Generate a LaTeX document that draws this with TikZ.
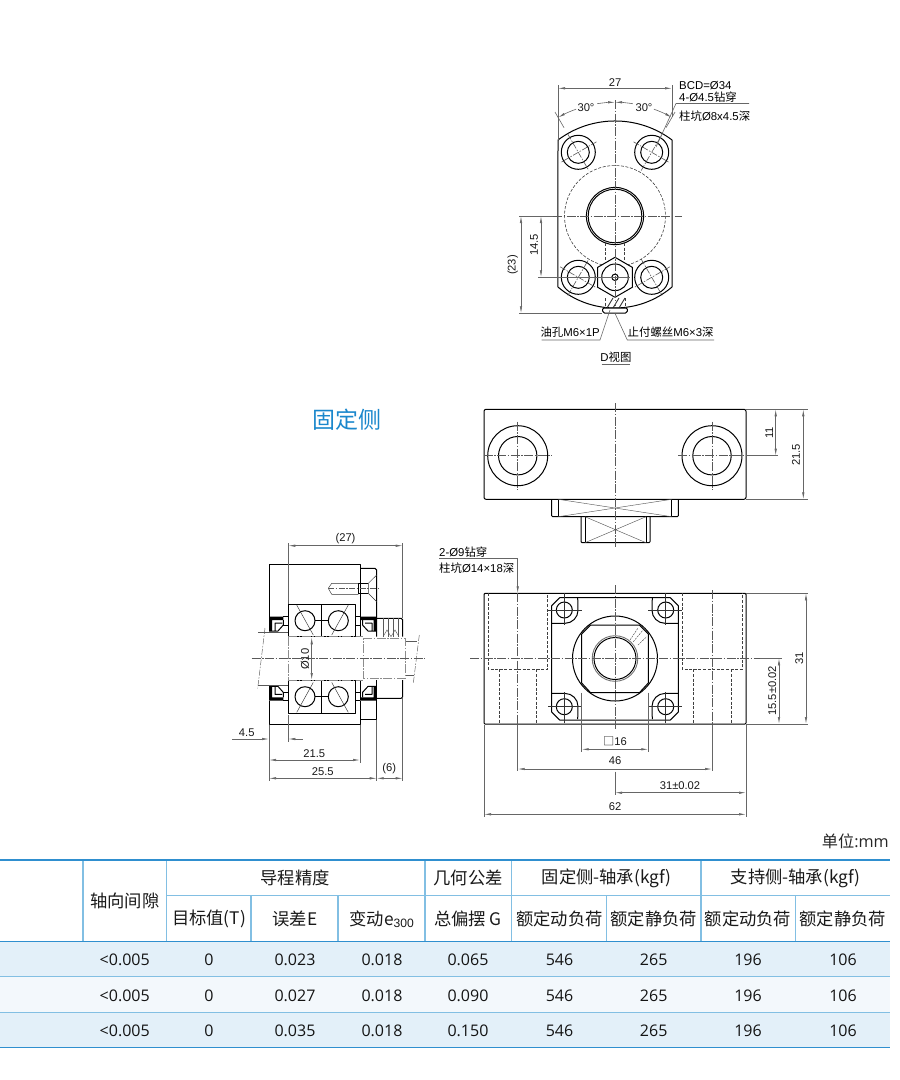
\documentclass[tikz,border=0pt]{standalone}
\usepackage{fontspec}
\usetikzlibrary{calc}
\usetikzlibrary{arrows.meta}
\setmainfont{Liberation Sans}
\newfontfamily\cjk{Noto Sans CJK SC}
\newfontfamily\tabfont{Open Sans}
\newcommand{\zh}[1]{{\cjk #1}}
\definecolor{tabline}{HTML}{2F8FCF}
\definecolor{tabgrid}{HTML}{82BFE3}
\definecolor{rowdark}{HTML}{E3F0F9}
\definecolor{rowlight}{HTML}{F3F8FC}
\definecolor{titleblue}{HTML}{1A87CC}
\tikzset{
  outl/.style={line width=1pt,black,line join=round},
  thinl/.style={line width=.45pt,black!65},
  hidden/.style={line width=.6pt,black!75,dashed,dash pattern=on 3pt off 1.6pt},
  cline/.style={line width=.6pt,black!65,dash pattern=on 9pt off 1.5pt on 1.5pt off 1.5pt},
  diml/.style={line width=.6pt,black!60},
  lab/.style={inner sep=0pt,text=black!90,font=\fontsize{11.2}{13}\selectfont},
  leadlab/.style={inner sep=0pt,text=black,font=\fontsize{11.4}{13}\selectfont},
  cellhead/.style={inner sep=0pt,text=black!90,font=\fontsize{17.3}{19}\selectfont\cjk},
  cellnum/.style={inner sep=0pt,text=black!92,font=\fontsize{16}{18}\selectfont\tabfont},
}
\begin{document}
\begin{tikzpicture}[x=1pt,y=1pt,yscale=-1,>={Latex[length=7pt,width=2.4pt]}]
    \useasboundingbox (0,0) rectangle (900,1080);
    \coordinate (dc) at (615,216);

    % D view
    \draw[outl] (558,140) arc (233.1:306.9:95) -- (672,287) arc (49.6:130.4:88) -- cycle;
    \foreach \hx/\hy/\ang in {578.3/152.3/60,651.7/152.3/-60,578.3/277.3/-60,651.7/277.3/60}{
        \draw[outl] (\hx,\hy) circle (17) (\hx,\hy) circle (11);
        \draw[cline,dash pattern=on 6pt off 1.5pt on 1.5pt off 1.5pt,shift={(\hx,\hy)},rotate=\ang] (-21,0)--(21,0) (0,-21)--(0,21);
    }
    \draw[hidden] (dc) circle (50.5);
    \draw[outl,fill=white] (dc) circle (28.6);
    \draw[outl] (dc) circle (26.8);
    \draw[hidden] (605.7,243)--(605.7,260) (624.3,243)--(624.3,260);
    \draw[outl,fill=white] (615,257.3)--(632.3,267.3)--(632.3,287.3)--(615,297.3)--(597.7,287.3)--(597.7,267.3)--cycle;
    \draw[outl] (615,277.3) circle (13.3) (615,277.3) circle (3.2);
    \draw[black!80,line width=.9pt] (607,308)--(613,298) (613,308)--(619,298) (619,308)--(625,298);
    \draw[hidden] (605,298)--(605,308) (625,298)--(625,308);
    \draw[outl,rounded corners=1.5pt,fill=white] (602.3,308)--(603,313)--(627,313)--(627.7,308)--cycle;
    \draw[cline] (615,100)--(615,306);
    \draw[cline] (553,216)--(682,216);
    \draw[diml] (519,216)--(553,216) (538,277.3)--(630,277.3) (519,313.3)--(602,313.3);
    \draw[diml] (558,85)--(558,140) (672,85)--(672,117);
    \draw[diml,<->] (558,88.3)--(672,88.3) node[midway,lab,above=2pt] (dA) {27};
    \draw[diml] ($(dc)+(240:102)$)--($(dc)+(240:120)$) ($(dc)+(300:102)$)--($(dc)+(300:120)$);
    \draw[diml,<-] ($(dc)+(240:113.7)$) arc (240:250:113.7);
    \draw[diml,->] ($(dc)+(261:113.7)$) arc (261:270:113.7);
    \draw[diml,<-] ($(dc)+(270:113.7)$) arc (270:279:113.7);
    \draw[diml,->] ($(dc)+(290:113.7)$) arc (290:300:113.7);
    \node[lab] (dB) at (586,107.7) {30°};
    \node[lab] (dC) at (644,107.7) {30°};
    \draw[diml,<->] (541,216)--(541,277.3);
    \node[lab,rotate=90] (dD) at (534,245) {14.5};
    \draw[diml,<->] (521,216)--(521,313.3);
    \node[lab,rotate=90] (dE) at (512.7,265) {(23)};
    \draw[diml] (749,103.5)--(676,103.5)--(656,147);
    \node[leadlab,anchor=west] (dF) at (679,85.7) {BCD=Ø34};
    \node[leadlab,anchor=west] (dG) at (679,97.3) {4-Ø4.5\zh{钻穿}};
    \node[leadlab,anchor=west] (dH) at (679,116) {\zh{柱坑}Ø8x4.5\zh{深}};
    \draw[diml] (541.7,340)--(600,340)--(610,310);
    \draw[diml] (714,340)--(627.3,340)--(615,313.3);
    \node[leadlab,anchor=east] (dI) at (600,332.3) {\zh{油孔}M6×1P};
    \node[leadlab,anchor=west] (dJ) at (627.5,332.3) {\zh{止付螺丝}M6×3\zh{深}};
    \node[leadlab] (dK) at (616,356.7) {D\zh{视图}};
    \draw[diml] (601.7,364)--(630,364);

    \node[inner sep=0pt,text=titleblue,font=\fontsize{23}{25}\selectfont\cjk] (title) at (347,420) {固定侧};

    % top view
    \draw[outl,rounded corners=2pt] (484,409.3) rectangle (746,499.3);
    \foreach \hx in {517.7,712}{
        \draw[outl] (\hx,455.7) circle (30) (\hx,455.7) circle (19.2);
        \draw[cline] (\hx-34,455.7)--(\hx+34,455.7) (\hx,421.7)--(\hx,489.7);
    }
    \draw[outl,rounded corners=1pt] (551.7,499.3)--(551.7,516.7)--(678.3,516.7)--(678.3,499.3);
    \draw[outl] (558.3,499.3)--(558.3,516.7) (671.7,499.3)--(671.7,516.7);
    \draw[thinl] (558.3,499.3)--(671.7,516.7) (558.3,516.7)--(671.7,499.3);
    \draw[outl,rounded corners=1pt] (581,516.7)--(581,542.7)--(650,542.7)--(650,516.7);
    \draw[outl] (585,516.7)--(585,542.7) (646,516.7)--(646,542.7);
    \draw[thinl] (585,516.7)--(646,542.7) (585,542.7)--(646,516.7);
    \draw[cline] (615,403)--(615,547.7);
    \draw[diml] (746,409.3)--(808,409.3) (746,455.7)--(778,455.7) (746,499.3)--(808,499.3);
    \draw[diml,<->] (775.7,409.3)--(775.7,455.7);
    \node[lab,rotate=90] (tA) at (769.3,433) {11};
    \draw[diml,<->] (803.3,409.3)--(803.3,499.3);
    \node[lab,rotate=90] (tB) at (796,455) {21.5};

    % front view
    \draw[outl,rounded corners=1pt] (484,593.3) rectangle (746,724);
    \foreach \sxv/\dxv in {488.3/547.7,682.3/742.3}
        \draw[hidden] (\sxv,593.3)--(\sxv,669.3)--(\dxv,669.3)--(\dxv,593.3);
    \foreach \hx in {499,536.7,693.3,731}
        \draw[hidden] (\hx,669.3)--(\hx,724);
    \draw[outl] (559.7,597.7)--(670.3,597.7)--(678.3,605.7)--(678.3,712)--(670.3,720)--(559.7,720)--(551.7,712)--(551.7,605.7)--cycle;
    \foreach \ax/\ay/\bx/\by in {1/1/0/0,-1/1/1230/0,1/-1/0/1316.7,-1/-1/1230/1316.7}{
        \begin{scope}[shift={(\bx,\by)},xscale=\ax,yscale=\ay]
            \draw[outl] (551.7,623.3)--(565,623.3) arc (90:0:13) -- (577.7,597.7);
            \draw[outl] (564.3,610) circle (8);
            \draw[thinl,black!80] (548.3,610)--(581.7,610) (564.3,593.3)--(564.3,625);
        \end{scope}
    }
    \draw[outl] (615,658.5) circle (42.5);
    \draw[outl] (581.7,634)--(590.6,625)--(639.4,625)--(648.3,634)--(648.3,683)--(639.4,692.7)--(590.6,692.7)--(581.7,683)--cycle;
    \draw[black!55,line width=.9pt] (615,658.5) circle (22.8);
    \draw[outl] (615,658.5) circle (21);
    \draw[hidden,line width=.4pt,dash pattern=on 2pt off 1pt] (630,640)--(638,628) (633.3,641.7)--(643,630) (638,645)--(646.7,636.7);
    \draw[cline] (470,658.3)--(760,658.3) (615,585)--(615,730);
    \draw[cline] (517.7,593.3)--(517.7,724) (712,590)--(712,724);
    \draw[diml] (746,593.3)--(808,593.3) (746,724)--(808,724) (760,658.3)--(781.7,658.3);
    \draw[diml,<->] (806,593.3)--(806,724);
    \node[lab,rotate=90] (fA) at (799.3,658) {31};
    \draw[diml,<->] (779,658.3)--(779,724);
    \node[lab,rotate=90] (fB) at (772.3,690.7) {15.5±0.02};
    \draw[diml] (517.7,725)--(517.7,771) (712,725)--(712,771) (484,725)--(484,817) (746,725)--(746,817)
        (581.7,692.7)--(581.7,751.7) (648.3,692.7)--(648.3,751.7) (615,771.7)--(615,795);
    \draw[diml,<->] (581.7,749.3)--(648.3,749.3);
    \node[lab] (fC) at (615,741.7) {\zh{□}16};
    \draw[diml,<->] (517.7,769)--(712,769);
    \node[lab] (fD) at (615,761) {46};
    \draw[diml,<->] (615,792.7)--(746,792.7);
    \node[lab] (fE) at (680,786) {31±0.02};
    \draw[diml,<->] (484,814.3)--(746,814.3);
    \node[lab] (fF) at (615,806.7) {62};
    \draw[diml,->] (439,558.3)--(517.7,558.3)--(517.7,593.3);
    \node[leadlab,anchor=west] (fG) at (439,551.7) {2-Ø9\zh{钻穿}};
    \node[leadlab,anchor=west] (fH) at (439,567.7) {\zh{柱坑}Ø14×18\zh{深}};

    % side view
    \draw[outl] (269,616.7)--(269,564)--(360,564)--(360,616.7);
    \draw[outl] (269,700.7)--(269,724)--(360,724)--(360,700.7);
    \draw[outl] (360,568.3)--(375,568.3)--(376.7,570)--(376.7,636.7);
    \draw[outl] (360,719.3)--(376.7,719.3)--(376.7,680);
    \draw[thinl,black!80] (376.7,575)--(368.3,583.3)--(368.3,593.3)--(376.7,601.7);
    \draw[outl] (358.3,583.3)--(368.3,583.3) (358.3,593.3)--(368.3,593.3) (358.3,583.3)--(358.3,594);
    \draw[thinl,black!80] (358.3,583.3)--(331.7,583.3)--(328.3,588.3)--(331.7,594.3)--(358.3,594.3);
    \draw[cline,dash pattern=on 6pt off 1.5pt on 1.5pt off 1.5pt] (328,588.3)--(378,588.3);
    \foreach \ys/\dy in {1/0,-1/1317.4}{
        \begin{scope}[shift={(0,\dy)},yscale=\ys]
            \draw[outl] (288.3,604) rectangle (321.7,636.7) (321.7,604) rectangle (355,636.7);
            \draw[outl] (283,616.7)--(288.3,616.7) (283,625)--(288.3,625) (355,616.7)--(360,616.7) (355,625)--(360,625);
            \draw[outl,fill=white] (305,620.7) circle (10) (338.3,620.7) circle (10);
            \draw[thinl,black!80] (296.7,605)--(313.3,635) (348.3,605)--(331.7,635);
            \draw[outl] (315,620.7)--(328.3,620.7);
            % seals
            \fill[black] (269,616.7) rectangle (283.3,620) (269,616.7) rectangle (272,631);
            \draw[outl] (275,631)--(275,623)--(282,623) (283.3,620)--(283.3,625)--(278,631)--(269,631);
            \fill[black] (360,616.7) rectangle (376.7,620) (373.7,616.7) rectangle (376.7,631);
            \draw[outl] (372,631)--(372,623)--(365,623) (362.5,620)--(362.5,625)--(368,631)--(376.7,631);
            \draw[outl] (360,617)--(360,636.7);
        \end{scope}
    }
    \draw[outl,rounded corners=1.5pt] (376.7,618.3)--(402.7,618.3)--(402.7,636.7);
    \draw[outl,rounded corners=1.5pt] (402.7,680)--(402.7,698.3)--(376.7,698.3);
    \foreach \hx in {383,388,393,398}
        \draw[thinl] (\hx,618.3)--(\hx,636.7);
    \draw[thinl] (383,636.7)--(387,630)--(391,636.7)--(395,630)--(399,636.7);
    \draw[thinl,dash pattern=on 6pt off 1.5pt on 1.5pt off 1.5pt] (265,628)--(257.7,688.3) (419.3,635)--(413.3,683.3);
    \draw[thinl] (258,632.3)--(288.3,632.3) (258,685)--(288.3,685) (405,641.7)--(417,641.7) (405,675)--(414,675);
    \draw[cline,black!45] (363.3,638.3)--(405,638.3)--(405,678.3)--(363.3,678.3)--cycle;
    \draw[cline,black!45] (288.3,636.7)--(288.3,680) (288.3,636.7)--(363.3,636.7) (288.3,680)--(363.3,680);
    \draw[cline] (251.7,658.7)--(425,658.7);
    \draw[diml,<->] (311.7,637.3)--(311.7,680);
    \node[lab,rotate=90] (sA) at (305,659.3) {Ø10};
    \draw[diml] (288.3,543)--(288.3,604) (402.7,543)--(402.7,618) (402.7,698.3)--(402.7,781)
        (269,725)--(269,781) (288.3,715)--(288.3,742) (360,725)--(360,763) (376.7,720)--(376.7,781);
    \draw[diml,<->] (288.3,545.7)--(402.7,545.7) node[midway,lab,above=2pt] (sB) {(27)};
    \draw[diml,->] (232.3,739)--(269,739);
    \draw[diml,<-] (288.3,739)--(302.7,739);
    \node[lab] (sC) at (246.7,732.7) {4.5};
    \draw[diml,<->] (269,760)--(360,760);
    \node[lab] (sD) at (314.3,753.3) {21.5};
    \draw[diml,<->] (269,778.3)--(376.7,778.3);
    \node[lab] (sE) at (322.7,771.7) {25.5};
    \draw[diml,<->] (376.7,778.3)--(402.7,778.3);
    \node[lab] (sF) at (389.3,768.3) {(6)};

    % table
    \node[inner sep=0pt,anchor=east,text=black!85,font=\fontsize{16.2}{18}\selectfont\tabfont] (unit) at (889,841.7) {\zh{单位}:mm};
    \fill[rowdark] (0,941.7) rectangle (890,976.5);
    \fill[rowlight] (0,976.5) rectangle (890,1012.3);
    \fill[rowdark] (0,1012.3) rectangle (890,1047.7);
    \draw[tabgrid,line width=1pt] (0,976.5)--(890,976.5) (0,1012.3)--(890,1012.3);
    \draw[tabgrid,line width=1pt] (166.7,895.7)--(890,895.7);
    \foreach \cx in {83,166.7,425,511.7,701}
        \draw[tabgrid,line width=1.2pt] (\cx,860)--(\cx,941.7);
    \foreach \cx in {251,338,606.7,795.3}
        \draw[tabgrid,line width=1.2pt] (\cx,895.7)--(\cx,941.7);
    \foreach \ly in {860,941.7,1047.7}
        \draw[tabline,line width=1.3pt] (0,\ly)--(890,\ly);
    \node[cellhead] (h1) at (124.7,901) {轴向间隙};
    \node[cellhead] (h2) at (295,877.7) {导程精度};
    \node[cellhead] (h3) at (468,877.7) {几何公差};
    \node[cellhead] (h4) at (606.7,878) {固定侧-轴承(kgf)};
    \node[cellhead] (h5) at (795.7,878) {支持侧-轴承(kgf)};
    \node[cellhead] (h6) at (209,919) {目标值(T)};
    \node[cellhead] (h7) at (295,919) {误差E};
    \node[cellhead] (h8) at (382,919) {变动e$_{\mathrm{300}}$};
    \node[cellhead] (h9) at (468,919) {总偏摆 G};
    \node[cellhead] (h10) at (559.5,919) {额定动负荷};
    \node[cellhead] (h11) at (653.7,919) {额定静负荷};
    \node[cellhead] (h12) at (748,919) {额定动负荷};
    \node[cellhead] (h13) at (842.7,919) {额定静负荷};
    \foreach \ry/\ee/\gg [count=\r] in {960/0.023/0.065,996/0.027/0.090,1031/0.035/0.150}{
        \node[cellnum] (a\r) at (124.7,\ry) {<0.005};
        \node[cellnum] (b\r) at (209,\ry) {0};
        \node[cellnum] (c\r) at (295,\ry) {\ee};
        \node[cellnum] (d\r) at (382,\ry) {0.018};
        \node[cellnum] (e\r) at (468,\ry) {\gg};
        \node[cellnum] (f\r) at (559.5,\ry) {546};
        \node[cellnum] (g\r) at (653.7,\ry) {265};
        \node[cellnum] (i\r) at (748,\ry) {196};
        \node[cellnum] (j\r) at (843,\ry) {106};
    }
\end{tikzpicture}
\end{document}
